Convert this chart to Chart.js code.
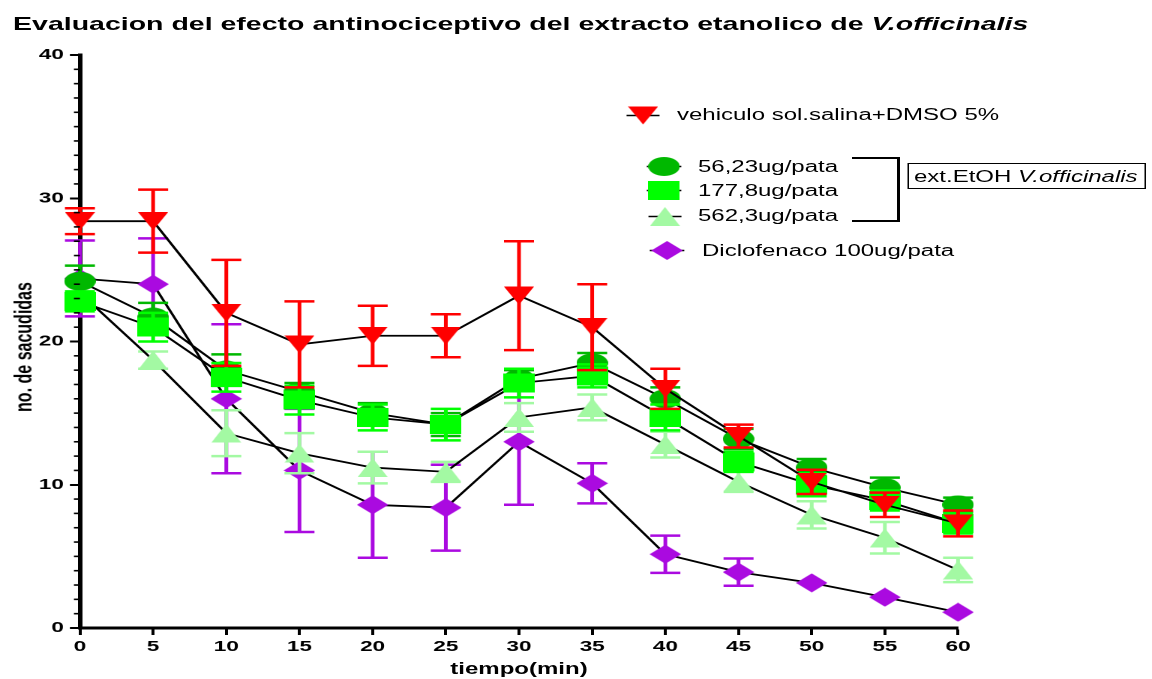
<!DOCTYPE html>
<html><head><meta charset="utf-8">
<script src="https://cdn.jsdelivr.net/npm/chart.js@4"></script>
<style>
html,body{margin:0;padding:0;background:#fff;overflow:hidden;width:1152px;height:679px;}
#wrap{position:absolute;left:0;top:0;width:768px;height:679px;transform:scaleX(1.5);transform-origin:0 0;font-family:"Liberation Sans",Arial,Helvetica,sans-serif;color:#000;}
#c{position:absolute;left:0;top:0;}
.t{position:absolute;white-space:nowrap;line-height:16px;font-size:16px;}
</style></head><body>
<div id="wrap">
<canvas id="c" width="768" height="679"></canvas>
<div class="t" style="left:8.7px;top:15px;font-size:19px;line-height:18px;font-weight:bold;">Evaluacion del efecto antinociceptivo del extracto etanolico de <i>V.officinalis</i></div>
<div class="t" style="left:246px;top:661px;width:200px;text-align:center;font-weight:bold;">tiempo(min)</div>
<div class="t" style="left:-84.2px;top:339px;width:200px;height:16px;text-align:center;font-weight:bold;transform:rotate(-90deg);transform-origin:50% 50%;">no. de sacudidas</div>
<div class="t" id="l0" style="left:451.3px;top:106.5px;"></div>
<div class="t" id="l1" style="left:465.3px;top:158.5px;"></div>
<div class="t" id="l2" style="left:465.3px;top:182.5px;"></div>
<div class="t" id="l3" style="left:465.3px;top:207.5px;"></div>
<div class="t" id="l4" style="left:468px;top:242.5px;"></div>
<div style="position:absolute;left:568px;top:156.75px;width:31.95px;height:65.5px;box-sizing:border-box;border-top:2.5px solid #000;border-right:2.5px solid #000;border-bottom:2.5px solid #000;"></div>
<div style="position:absolute;left:604.7px;top:163px;width:159.3px;height:26px;box-sizing:border-box;border:1.5px solid #000;"></div>
<div class="t" style="left:609.3px;top:168.8px;">ext.EtOH <i>V.officinalis</i></div>
</div>
<script>
// ---- data ----
const times = [0, 5, 10, 15, 20, 25, 30, 35, 40, 45, 50, 55, 60];
const seriesNames = ['vehiculo sol.salina+DMSO 5%', '56,23ug/pata', '177,8ug/pata', '562,3ug/pata', 'Diclofenaco 100ug/pata'];
const vehiculoMean = [28.4, 28.4, 22.0, 19.8, 20.4, 20.4, 23.2, 21.0, 16.7, 13.4, 10.2, 8.6, 7.3];
const vehiculoErr  = [0.9, 2.2, 3.7, 3.0, 2.1, 1.5, 3.8, 3.0, 1.4, 0.8, 0.85, 0.85, 0.9];
const d56Mean = [24.2, 21.7, 18.0, 16.5, 15.0, 14.2, 17.4, 18.5, 16.0, 13.2, 11.2, 9.8, 8.6];
const d56Err  = [1.1, 1.0, 1.1, 0.6, 0.7, 0.8, 0.6, 0.7, 0.8, 0.7, 0.6, 0.7, 0.5];
const d177Mean = [22.8, 21.0, 17.5, 15.9, 14.7, 14.2, 17.1, 17.6, 14.7, 11.6, 10.0, 8.9, 7.3];
const d177Err  = [0.7, 1.0, 1.0, 1.0, 0.9, 1.1, 1.0, 0.8, 0.9, 0.7, 0.8, 0.7, 0.7];
const d562Mean = [23.4, 18.7, 13.6, 12.2, 11.2, 10.9, 14.7, 15.4, 12.8, 10.2, 7.9, 6.3, 4.05];
const d562Err  = [0.8, 0.6, 1.6, 1.4, 1.1, 0.7, 1.0, 0.9, 0.9, 0.7, 0.95, 1.1, 0.85];
const dicloMean = [24.4, 24.0, 16.0, 11.0, 8.6, 8.4, 13.0, 10.1, 5.15, 3.9, 3.15, 2.15, 1.1];
const dicloErr  = [2.65, 3.2, 5.2, 4.3, 3.7, 3.0, 4.4, 1.4, 1.3, 0.95, 0, 0, 0];
const yTicksMajor = [0, 10, 20, 30, 40];
const xTicks = [0, 5, 10, 15, 20, 25, 30, 35, 40, 45, 50, 55, 60];

const colors = ['#ff0000', '#00b800', '#00ff00', '#a3f9a3', '#aa0ae0'];

seriesNames.forEach((n, i) => { document.getElementById('l' + i).textContent = n; });

function makeImg(w, h, color, path) {
  const S = 4;
  const cv = document.createElement('canvas');
  cv.width = w * S; cv.height = h * S;
  const g = cv.getContext('2d');
  g.scale(S, S);
  g.fillStyle = color;
  g.beginPath();
  path(g, w, h);
  g.fill();
  const img = new Image(w, h);
  return new Promise(res => { img.onload = () => res(img); img.src = cv.toDataURL(); });
}
const shapes = [
  [20, 18, colors[0], (g, w, h) => { g.moveTo(0, 0); g.lineTo(w, 0); g.lineTo(w / 2, h); g.closePath(); }],
  [21, 19, colors[1], (g, w, h) => { g.ellipse(w / 2, h / 2, w / 2, h / 2, 0, 0, Math.PI * 2); }],
  [21, 19, colors[2], (g, w, h) => { g.rect(0, 0, w, h); }],
  [20, 19, colors[3], (g, w, h) => { g.moveTo(w / 2, 0); g.lineTo(w, h); g.lineTo(0, h); g.closePath(); }],
  [21, 19, colors[4], (g, w, h) => { g.moveTo(w / 2, 0); g.lineTo(w, h / 2); g.lineTo(w / 2, h); g.lineTo(0, h / 2); g.closePath(); }]
];

Promise.all(shapes.map(s => makeImg(s[0], s[1], s[2], s[3]))).then(imgs => {
  const means = [vehiculoMean, d56Mean, d177Mean, d562Mean, dicloMean];
  const errs = [vehiculoErr, d56Err, d177Err, d562Err, dicloErr];
  // draw order (top first): vehiculo, 177,8, 56,23, 562,3, diclofenaco
  const orderIdx = [0, 2, 1, 3, 4];
  const datasets = orderIdx.map(k => ({
    label: seriesNames[k],
    data: times.map((t, j) => ({ x: t, y: means[k][j] })),
    errs: errs[k],
    barColor: colors[k],
    borderColor: '#000',
    borderWidth: 1.8,
    tension: 0,
    fill: false,
    clip: false,
    pointStyle: imgs[k],
    pointRadius: 10,
    pointHoverRadius: 10
  }));

  const errPlugin = {
    id: 'errbars',
    beforeDatasetDraw(chart, args) {
      const ds = chart.data.datasets[args.index];
      const xs = chart.scales.x, ys = chart.scales.y;
      const c = chart.ctx;
      c.save();
      c.strokeStyle = ds.barColor;
      c.lineWidth = 2.5;
      ds.data.forEach((p, j) => {
        const e = ds.errs[j];
        if (!e) return;
        const x = xs.getPixelForValue(p.x);
        const y1 = ys.getPixelForValue(p.y + e);
        const y2 = ys.getPixelForValue(p.y - e);
        c.beginPath();
        c.moveTo(x, y1); c.lineTo(x, y2);
        c.moveTo(x - 10, y1); c.lineTo(x + 10, y1);
        c.moveTo(x - 10, y2); c.lineTo(x + 10, y2);
        c.stroke();
      });
      c.restore();
    }
  };
  const minorPlugin = {
    id: 'minor',
    afterDraw(chart) {
      const ys = chart.scales.y, c = chart.ctx;
      const left = chart.chartArea.left;
      c.save();
      c.strokeStyle = '#000';
      c.lineWidth = 1.6;
      for (let v = ys.min; v <= ys.max; v += 1) {
        if (v % 10 === 0) continue;
        const y = ys.getPixelForValue(v);
        c.beginPath(); c.moveTo(left - 4, y); c.lineTo(left, y); c.stroke();
      }
      c.restore();
    }
  };
  const legendPos = [[428.7, 115.5], [442.7, 166.5], [442.7, 190.5], [443.3, 216.5], [444.7, 250.5]];
  const legendPlugin = {
    id: 'legsym',
    afterDraw(chart) {
      const c = chart.ctx;
      c.save();
      imgs.forEach((img, k) => {
        const [x, y] = legendPos[k];
        const w = img.width, h = img.height;
        c.strokeStyle = '#000';
        c.lineWidth = 1.5;
        c.beginPath(); c.moveTo(x - w / 2 - 1, y); c.lineTo(x + w / 2 + 1, y); c.stroke();
        c.drawImage(img, x - w / 2, y - h / 2, w, h);
      });
      c.restore();
    }
  };

  const tickFont = { family: '"Liberation Sans", Arial, sans-serif', weight: 'bold', size: 15 };
  new Chart(document.getElementById('c'), {
    type: 'line',
    data: { datasets },
    options: {
      responsive: false,
      animation: false,
      devicePixelRatio: 2,
      events: [],
      layout: { padding: { left: 0, right: 129.3, top: 55, bottom: 0 } },
      plugins: { legend: { display: false }, tooltip: { enabled: false }, title: { display: false } },
      scales: {
        x: {
          type: 'linear', min: 0, max: 60,
          afterBuildTicks(s) { s.ticks = xTicks.map(v => ({ value: v })); },
          border: { display: true, color: '#000', width: 3 },
          grid: { display: true, drawOnChartArea: false, drawTicks: true, tickLength: 7, tickWidth: 2, tickColor: '#000', color: '#000' },
          ticks: { color: '#000', font: tickFont, padding: 3, maxRotation: 0, autoSkip: false },
          afterFit(s) { s.height = 51; }
        },
        y: {
          type: 'linear', min: 0, max: 40,
          afterBuildTicks(s) { s.ticks = yTicksMajor.map(v => ({ value: v })); },
          border: { display: true, color: '#000', width: 3 },
          grid: { display: true, drawOnChartArea: false, drawTicks: true, tickLength: 6.7, tickWidth: 2, tickColor: '#000', color: '#000' },
          ticks: { color: '#000', font: tickFont, padding: 4, autoSkip: false },
          afterFit(s) { s.width = 53.3; }
        }
      }
    },
    plugins: [errPlugin, minorPlugin, legendPlugin]
  });
});
</script>
</body></html>
